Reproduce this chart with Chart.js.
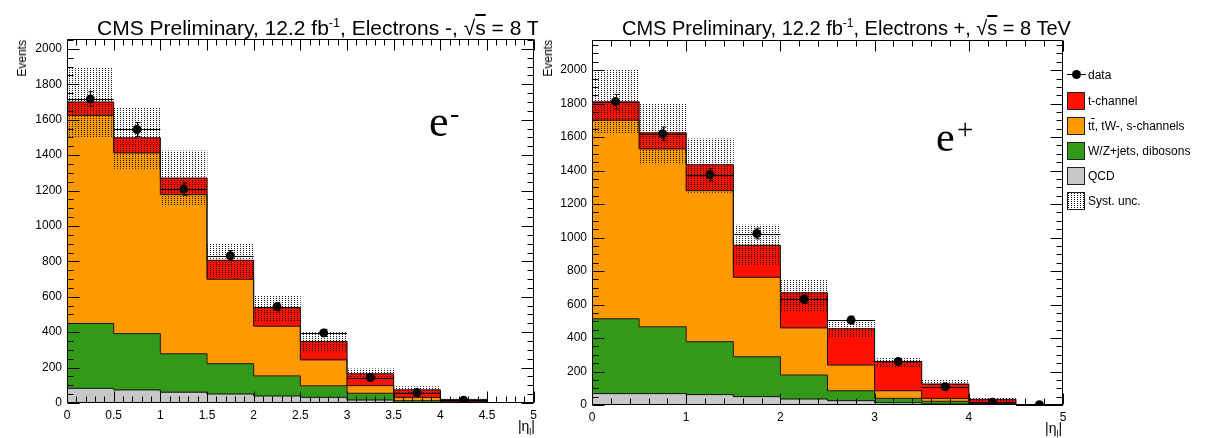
<!DOCTYPE html>
<html><head><meta charset="utf-8">
<script src="https://cdn.jsdelivr.net/npm/chart.js@4.4.0/dist/chart.umd.min.js"></script>
<style>
html,body{margin:0;padding:0;background:#fff;}
body{width:1214px;height:438px;overflow:hidden;position:relative;font-family:"Liberation Sans",Arial,sans-serif;color:#000;}
.pane{position:absolute;top:0;height:438px;overflow:hidden;background:#fff;}
#paneL{left:0;width:538px;z-index:1}
#paneR{left:538px;width:676px;z-index:2}
canvas{position:absolute;top:0;left:0;}
.txt{position:absolute;white-space:nowrap;line-height:0;}
.ylab{position:absolute;writing-mode:vertical-rl;transform:rotate(180deg);font-size:12px;line-height:12px;white-space:nowrap;}
.leg{position:absolute;left:529px;font-size:12px;}
.row{position:absolute;left:0;height:18px;white-space:nowrap;}
.box{position:absolute;left:0;top:0;width:16px;height:16px;border:1px solid #222;}
.lab{position:absolute;left:21px;top:0;line-height:18px;}
.ov{text-decoration:overline;}
</style>
</head>
<body>
<div class="pane" id="paneL">
  <canvas id="cL" width="542" height="438"></canvas>
  <div class="txt" id="titleL" style="left:97px;top:23px;font-size:21px;">CMS Preliminary, 12.2 fb<sup style="font-size:12.5px">-1</sup>, Electrons -, √<span class="ov">s</span> = 8 TeV</div>
  <div class="ylab" style="left:16px;top:40px;">Events</div>
  <div class="txt" style="right:3px;top:426px;font-size:14px;">|η<sub style="font-size:9px">l</sub>|</div>
  <div class="txt" style="left:429px;top:122px;font-family:'Liberation Serif',serif;font-size:44px;">e</div>
  <div class="txt" style="left:450px;top:113px;font-family:'Liberation Serif',serif;font-size:28px;">-</div>
</div>
<div class="pane" id="paneR">
  <canvas id="cR" width="676" height="438"></canvas>
  <div class="txt" id="titleR" style="left:84px;top:23px;font-size:20px;">CMS Preliminary, 12.2 fb<sup style="font-size:12px">-1</sup>, Electrons +, √<span class="ov">s</span> = 8 TeV</div>
  <div class="ylab" style="left:4px;top:40px;">Events</div>
  <div class="txt" style="left:507px;top:428px;font-size:14px;">|η<sub style="font-size:9px">l</sub>|</div>
  <div class="txt" style="left:398px;top:137px;font-family:'Liberation Serif',serif;font-size:42px;">e</div>
  <div class="txt" style="left:419px;top:129px;font-family:'Liberation Serif',serif;font-size:29px;">+</div>
  <div class="leg" id="legend">
    <div class="row" style="top:66px;width:140px;"><div style="position:absolute;left:0;top:8px;width:19px;height:1px;background:#000"></div><div style="position:absolute;left:5px;top:4px;width:9px;height:9px;border-radius:50%;background:#000"></div><div class="lab">data</div></div>
    <div class="row" style="top:92px;"><div class="box" id="sw0"></div><div class="lab">t-channel</div></div>
    <div class="row" style="top:117px;"><div class="box" id="sw1"></div><div class="lab">t<span class="ov">t</span>, tW-, s-channels</div></div>
    <div class="row" style="top:142px;"><div class="box" id="sw2"></div><div class="lab">W/Z+jets, dibosons</div></div>
    <div class="row" style="top:167px;"><div class="box" id="sw3"></div><div class="lab">QCD</div></div>
    <div class="row" style="top:192px;"><div class="box" id="sw4"></div><div class="lab">Syst. unc.</div></div>
  </div>
</div>
<script>
// ---- data ----
const binEdges = [0, 0.5, 1, 1.5, 2, 2.5, 3, 3.5, 4, 4.5, 5];
const yTickLabels = [0, 200, 400, 600, 800, 1000, 1200, 1400, 1600, 1800, 2000];
const xTickLabelsMinus = [0, 0.5, 1, 1.5, 2, 2.5, 3, 3.5, 4, 4.5, 5];
const xTickLabelsPlus = [0, 1, 2, 3, 4, 5];

// Electrons - panel
const qcdMinus   = [83, 74, 61, 51, 40, 32, 17, 3, 0.5, 0];
const wzMinus    = [366, 318, 217, 171, 113, 65, 38, 10, 2.5, 0];
const ttbarMinus = [1176, 1021, 899, 477, 281, 147, 43, 19, 4, 0];
const tchMinus   = [75, 85, 93, 107, 104, 103, 67, 42, 12, 0];
const dataMinus  = [1717, 1545, 1208, 832, 544, 396, 144, 59, 15, null];
const errMinus   = [41, 39, 35, 29, 23, 20, 12, 8, 4, null];
const systLoMinus = [1500, 1325, 1117, 710, 460, 297, 136, 58, 12, null];
const systHiMinus = [1896, 1670, 1425, 900, 606, 398, 193, 93, 22, null];

// Electrons + panel
const qcdPlus   = [68, 68, 62, 50, 36, 26, 14, 6, 2, 0];
const wzPlus    = [447, 399, 316, 238, 143, 59, 26, 16, 4, 0];
const ttbarPlus = [1186, 1063, 902, 475, 282, 154, 45, 18, 4, 0];
const tchPlus   = [109, 95, 155, 191, 209, 216, 173, 85, 24, 0];
const dataPlus  = [1812, 1620, 1375, 1024, 632, 507, 260, 109, 16, 2];
const errPlus   = [43, 40, 37, 32, 25, 23, 16, 10, 4, 1.5];
const systLoPlus = [1620, 1440, 1270, 840, 560, 410, 225, 115, 25, null];
const systHiPlus = [2004, 1800, 1590, 1075, 746, 511, 278, 149, 40, null];

// ---- styles ----
const COLORS = { tch: '#ff1100', ttbar: '#ff9900', wz: '#339919', qcd: '#c8c8c8' };
const FONT = '"Liberation Sans", Arial, sans-serif';

function makePatternCanvas() {
  const c = document.createElement('canvas');
  c.width = 3; c.height = 2;
  const g = c.getContext('2d');
  g.fillStyle = 'rgba(0,0,0,0.9)';
  g.fillRect(0, 0, 1, 1);
  return c;
}
const patCanvas = makePatternCanvas();

const centers = binEdges.slice(0, -1).map((e, i) => (e + binEdges[i + 1]) / 2);

function floating(base, comp) {
  return comp.map((v, i) => ({ x: centers[i], y: [base[i], base[i] + v] }));
}
function cumulate(base, comp) { return base.map((b, i) => b + comp[i]); }
function contour(cum) {
  const pts = cum.map((v, i) => ({ x: binEdges[i], y: v }));
  pts.push({ x: binEdges[binEdges.length - 1], y: cum[cum.length - 1] });
  pts.push({ x: binEdges[binEdges.length - 1], y: 0 });
  return pts;
}
const fmt = v => String(Math.round(v * 10) / 10);

function buildChart(canvasId, p) {
  const ctx = document.getElementById(canvasId).getContext('2d');
  const pattern = ctx.createPattern(patCanvas, 'repeat');
  const zero = p.qcd.map(() => 0);
  const c1 = cumulate(zero, p.qcd);
  const c2 = cumulate(c1, p.wz);
  const c3 = cumulate(c2, p.ttbar);
  const c4 = cumulate(c3, p.tch);
  const barCommon = { type: 'bar', grouped: false, barPercentage: 1, categoryPercentage: 1, borderWidth: 0, order: 5 };
  const lineCommon = { type: 'line', stepped: 'before', borderColor: '#151515', borderWidth: 1, pointRadius: 0, fill: false, order: 3 };
  const systData = p.systLo.map((lo, i) => lo == null ? null : { x: centers[i], y: [lo, p.systHi[i]] }).filter(Boolean);
  const dataPts = p.data.map((v, i) => v == null ? null : { x: centers[i], y: v }).filter(Boolean);

  const datasets = [
    { type: 'line', data: dataPts, showLine: false, pointRadius: 4.5, pointHoverRadius: 4.5, pointBackgroundColor: '#000', pointBorderColor: '#000', pointBorderWidth: 0, order: 0 },
    Object.assign({}, barCommon, { data: systData, backgroundColor: pattern, order: 1 }),
    Object.assign({}, lineCommon, { data: contour(c4) }),
    Object.assign({}, lineCommon, { data: contour(c3) }),
    Object.assign({}, lineCommon, { data: contour(c2) }),
    Object.assign({}, lineCommon, { data: contour(c1) }),
    Object.assign({}, barCommon, { data: floating(c3, p.tch), backgroundColor: COLORS.tch }),
    Object.assign({}, barCommon, { data: floating(c2, p.ttbar), backgroundColor: COLORS.ttbar }),
    Object.assign({}, barCommon, { data: floating(c1, p.wz), backgroundColor: COLORS.wz }),
    Object.assign({}, barCommon, { data: floating(zero, p.qcd), backgroundColor: COLORS.qcd })
  ];

  const errorBars = {
    id: 'errorBars',
    afterDatasetsDraw(chart) {
      const { ctx, scales: { x, y } } = chart;
      ctx.save();
      ctx.strokeStyle = '#000';
      ctx.lineWidth = 1;
      p.data.forEach((v, i) => {
        if (v == null) return;
        const py = Math.round(y.getPixelForValue(v)) + 0.5;
        const x0 = x.getPixelForValue(binEdges[i]);
        const x1 = x.getPixelForValue(binEdges[i + 1]);
        const px = Math.round(x.getPixelForValue(centers[i])) + 0.5;
        const yt = y.getPixelForValue(v + p.err[i]);
        const yb = y.getPixelForValue(Math.max(0, v - p.err[i]));
        ctx.beginPath();
        ctx.moveTo(x0, py); ctx.lineTo(x1, py);
        ctx.moveTo(px, yt); ctx.lineTo(px, yb);
        ctx.moveTo(px - 2, yt); ctx.lineTo(px + 3, yt);
        ctx.moveTo(px - 2, yb); ctx.lineTo(px + 3, yb);
        ctx.stroke();
      });
      ctx.restore();
    }
  };

  const frameTicks = {
    id: 'frameTicks',
    afterDraw(chart) {
      const { ctx, chartArea: a, scales: { x, y } } = chart;
      ctx.save();
      ctx.strokeStyle = '#000';
      ctx.lineWidth = 1;
      ctx.beginPath();
      const L = Math.round(a.left) + 0.5, R = Math.round(a.right) - 0.5;
      const T = Math.round(a.top) + 0.5, B = Math.round(a.bottom) - 0.5;
      ctx.rect(L, T, R - L, B - T);
      const nY = Math.floor(p.ymax / p.yMinor + 1e-9);
      for (let k = 0; k <= nY; k++) {
        const v = k * p.yMinor;
        const len = (k % p.yPerMajor === 0) ? 12 : 6;
        const py = Math.round(y.getPixelForValue(v)) + 0.5;
        ctx.moveTo(L, py); ctx.lineTo(L + len, py);
        ctx.moveTo(R, py); ctx.lineTo(R - len, py);
      }
      const nX = Math.round(5 / p.xMinor);
      for (let k = 0; k <= nX; k++) {
        const v = k * p.xMinor;
        const len = (k % p.xPerMajor === 0) ? 11 : 6;
        const px = Math.round(x.getPixelForValue(v)) + 0.5;
        ctx.moveTo(px, B); ctx.lineTo(px, B - len);
        ctx.moveTo(px, T); ctx.lineTo(px, T + len);
      }
      ctx.stroke();
      ctx.restore();
    }
  };

  return new Chart(ctx, {
    type: 'bar',
    data: { datasets },
    plugins: [errorBars, frameTicks],
    options: {
      responsive: false,
      animation: false,
      events: [],
      layout: { padding: p.padding },
      plugins: { legend: { display: false }, tooltip: { enabled: false }, title: { display: false } },
      scales: {
        x: {
          type: 'linear', min: 0, max: 5, offset: false,
          grid: { display: false, drawTicks: false, offset: false },
          border: { display: false },
          ticks: { autoSkip: false, maxRotation: 0, color: '#000', padding: 5, font: { family: FONT, size: 12 }, callback: fmt },
          afterBuildTicks(s) { s.ticks = p.xTicks.map(v => ({ value: v })); },
          afterFit(s) { s.height = p.xHeight; }
        },
        y: {
          type: 'linear', min: 0, max: p.ymax,
          grid: { display: false, drawTicks: false },
          border: { display: false },
          ticks: { autoSkip: false, color: '#000', padding: 5, font: { family: FONT, size: 12 }, callback: fmt },
          afterBuildTicks(s) { s.ticks = yTickLabels.map(v => ({ value: v })); },
          afterFit(s) { s.width = p.yWidth; }
        }
      }
    }
  });
}

buildChart('cL', {
  qcd: qcdMinus, wz: wzMinus, ttbar: ttbarMinus, tch: tchMinus,
  data: dataMinus, err: errMinus, systLo: systLoMinus, systHi: systHiMinus,
  xTicks: xTickLabelsMinus,
  ymax: 2056, xMinor: 0.1, xPerMajor: 5, yMinor: 50, yPerMajor: 4,
  padding: { left: 0, top: 39, right: 6, bottom: 0 }, xHeight: 35, yWidth: 67
});
buildChart('cR', {
  qcd: qcdPlus, wz: wzPlus, ttbar: ttbarPlus, tch: tchPlus,
  data: dataPlus, err: errPlus, systLo: systLoPlus, systHi: systHiPlus,
  xTicks: xTickLabelsPlus,
  ymax: 2180, xMinor: 0.2, xPerMajor: 5, yMinor: 50, yPerMajor: 4,
  padding: { left: 0, top: 40, right: 151, bottom: 0 }, xHeight: 33, yWidth: 54
});

const swCols = [COLORS.tch, COLORS.ttbar, COLORS.wz, COLORS.qcd];
swCols.forEach((c, i) => { document.getElementById('sw' + i).style.background = c; });
const sw4 = document.getElementById('sw4');
sw4.style.backgroundColor = '#fff';
sw4.style.backgroundImage = 'url(' + patCanvas.toDataURL() + ')';
</script>
</body></html>
